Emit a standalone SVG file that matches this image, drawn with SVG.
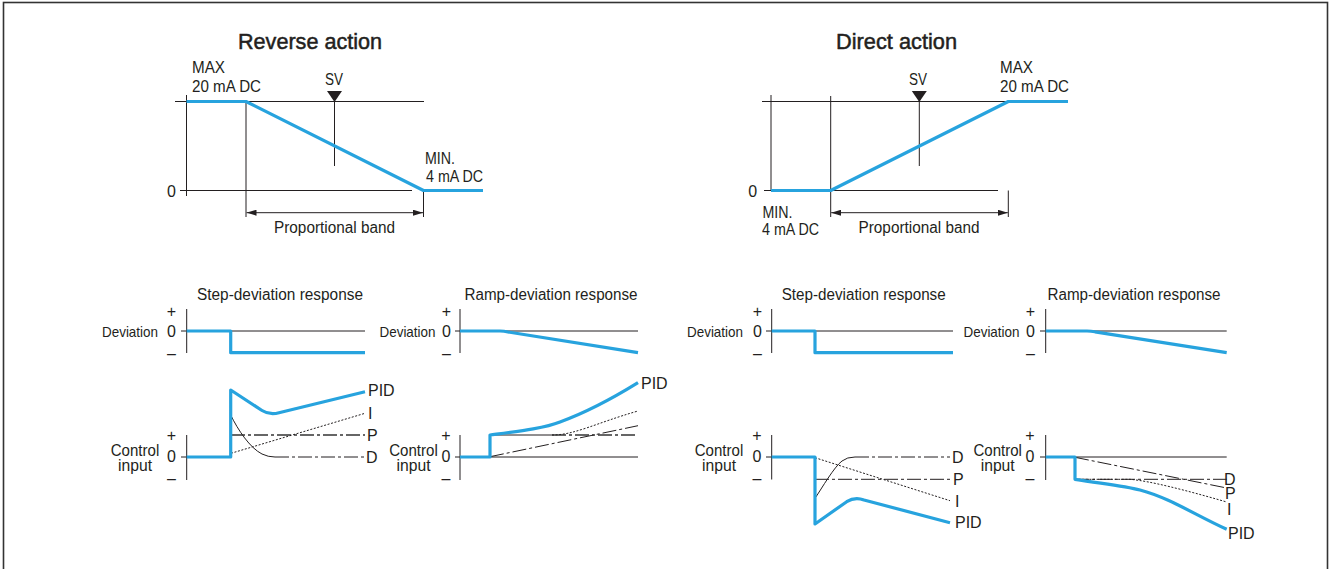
<svg xmlns="http://www.w3.org/2000/svg" width="1330" height="569" viewBox="0 0 1330 569">
  <defs>
    <style>
      text { font-family: "Liberation Sans", Arial, sans-serif; font-size: 16px; fill: #231f20; }
      .title { font-size: 22px; stroke: #231f20; stroke-width: 0.5; }
      .dev { font-size: 15px; }
      .mid { text-anchor: middle; }
      .end { text-anchor: end; }
      .ax { stroke: #231f20; stroke-width: 1; fill: none; }
      .sig { stroke: #27a3de; stroke-width: 3.2; fill: none; stroke-linejoin: round; }
      .dd { stroke: #231f20; stroke-width: 1; fill: none; stroke-dasharray: 14 3 3 3; }
      .dg { stroke: #666; stroke-width: 1.8; fill: none; stroke-dasharray: 14 3 3 3; }
      .dot { stroke: #231f20; stroke-width: 1; fill: none; stroke-dasharray: 2 1.6; }
      .thin { stroke: #231f20; stroke-width: 1; fill: none; }
    </style>
    <marker id="ah" viewBox="0 0 10 6" refX="10" refY="3" markerWidth="10" markerHeight="6" markerUnits="userSpaceOnUse" orient="auto-start-reverse">
      <path d="M0,0 L10,3 L0,6 Z" fill="#231f20"/>
    </marker>
  </defs>

  <rect x="3.5" y="2.5" width="1324" height="580" fill="#fff" stroke="#333" stroke-width="1.6"/>

  <!-- Reverse action characteristic -->
  <g id="reverse-action">
    <text class="title mid" x="310" y="49" textLength="144" lengthAdjust="spacingAndGlyphs">Reverse action</text>
    <text x="192" y="73.3" textLength="33" lengthAdjust="spacingAndGlyphs">MAX</text>
    <text x="192" y="91.7" textLength="69" lengthAdjust="spacingAndGlyphs">20 mA DC</text>
    <text class="mid" x="334" y="85" textLength="18" lengthAdjust="spacingAndGlyphs">SV</text>
    <text x="425" y="164" textLength="30" lengthAdjust="spacingAndGlyphs">MIN.</text>
    <text x="426" y="181.7" textLength="57" lengthAdjust="spacingAndGlyphs">4 mA DC</text>
    <text class="mid" x="171.5" y="196.5">0</text>
    <text class="mid" x="334.5" y="233.3" textLength="121" lengthAdjust="spacingAndGlyphs">Proportional band</text>
    <path class="ax" d="M175,101.5 H424 M180,190.5 H412 M186.5,95 V196 M246,101.5 V217 M423.5,190.5 V217 M334.5,96 V166"/>
    <path d="M327,91 H342 L334.5,102 Z" fill="#231f20"/>
    <line class="ax" x1="246.5" y1="212.7" x2="423" y2="212.7" marker-start="url(#ah)" marker-end="url(#ah)"/>
    <path class="sig" d="M186.5,101.5 H246 L423.5,190.5 H483"/>
  </g>

  <!-- Direct action characteristic -->
  <g id="direct-action">
    <text class="title mid" x="896.5" y="49" textLength="121" lengthAdjust="spacingAndGlyphs">Direct action</text>
    <text x="1000" y="73.3" textLength="33" lengthAdjust="spacingAndGlyphs">MAX</text>
    <text x="1000" y="91.7" textLength="69" lengthAdjust="spacingAndGlyphs">20 mA DC</text>
    <text class="mid" x="918" y="85" textLength="18" lengthAdjust="spacingAndGlyphs">SV</text>
    <text x="762.5" y="218.3" textLength="30" lengthAdjust="spacingAndGlyphs">MIN.</text>
    <text x="762" y="235" textLength="57" lengthAdjust="spacingAndGlyphs">4 mA DC</text>
    <text class="mid" x="752.7" y="196.5">0</text>
    <text class="mid" x="919" y="233.3" textLength="121" lengthAdjust="spacingAndGlyphs">Proportional band</text>
    <path class="ax" d="M762,101.5 H1008 M764,190.5 H998 M771,95 V191 M830.7,96 V217 M1008.3,190.5 V217 M919.3,96 V166"/>
    <path d="M911.8,91 H926.8 L919.3,102 Z" fill="#231f20"/>
    <line class="ax" x1="831.2" y1="212.7" x2="1007.8" y2="212.7" marker-start="url(#ah)" marker-end="url(#ah)"/>
    <path class="sig" d="M771,190.5 H830.7 L1008.3,101.5 H1068"/>
  </g>

  <!-- Reverse action: step-deviation response -->
  <g id="rev-step">
    <text class="mid" x="280" y="300" textLength="166" lengthAdjust="spacingAndGlyphs">Step-deviation response</text>
    <text class="end dev" x="158" y="337" textLength="56" lengthAdjust="spacingAndGlyphs">Deviation</text>
    <text class="mid" x="171.5" y="317">+</text>
    <text class="mid" x="171.5" y="337">0</text>
    <text class="mid" x="171.5" y="359">–</text>
    <text class="mid" x="135" y="455.7" textLength="48.5" lengthAdjust="spacingAndGlyphs">Control</text>
    <text class="mid" x="135" y="470.5" textLength="34" lengthAdjust="spacingAndGlyphs">input</text>
    <text class="mid" x="171.5" y="441">+</text>
    <text class="mid" x="171.5" y="462.3">0</text>
    <text class="mid" x="171.5" y="484">–</text>
    <path class="ax" d="M186.7,309 V353 M181,331 H365 M186.7,435 V480 M181,457 H231"/>
    <path class="sig" d="M186.7,331 H230.7 V352.7 H365"/>
    <path class="dg" d="M231,435 H365"/>
    <path class="dot" d="M231,453.3 L365,413.3"/>
    <path class="thin" d="M230.7,415 C238,430 250,448 262,454 Q268,457 275,457"/>
    <path class="dd" d="M275,457 H365"/>
    <path class="sig" d="M186.7,457 H230.7 V390 L262,410.5 Q270,415.5 279,412.7 L365,391.7"/>
    <text x="368" y="396">PID</text>
    <text x="368" y="419">I</text>
    <text x="367" y="441">P</text>
    <text x="366" y="463">D</text>
  </g>

  <!-- Reverse action: ramp-deviation response -->
  <g id="rev-ramp">
    <text class="mid" x="551" y="300" textLength="173" lengthAdjust="spacingAndGlyphs">Ramp-deviation response</text>
    <text class="end dev" x="435.5" y="337" textLength="56" lengthAdjust="spacingAndGlyphs">Deviation</text>
    <text class="mid" x="446.5" y="317">+</text>
    <text class="mid" x="446.5" y="337">0</text>
    <text class="mid" x="446.5" y="359">–</text>
    <text class="mid" x="413.5" y="455.7" textLength="48.5" lengthAdjust="spacingAndGlyphs">Control</text>
    <text class="mid" x="413.5" y="470.5" textLength="34" lengthAdjust="spacingAndGlyphs">input</text>
    <text class="mid" x="446" y="441">+</text>
    <text class="mid" x="446" y="462.3">0</text>
    <text class="mid" x="446" y="484">–</text>
    <path class="ax" d="M460,309 V353 M455,331 H638 M460,435 V480 M455,457 H638"/>
    <path class="sig" d="M460,331 H500 Q504,331 508,332 L638,352.7"/>
    <path class="thin" d="M490,435 H552"/>
    <path class="dg" d="M552,435 H638"/>
    <path class="dd" d="M490,456.7 L638,425.7"/>
    <path class="dot" d="M552,435 C575,435 596,423 638,411"/>
    <path class="sig" d="M460,457 H490 V435 C520,431 545,428 560,422 C585,413 610,400 638,382.7"/>
    <text x="641" y="389">PID</text>
  </g>

  <!-- Direct action: step-deviation response -->
  <g id="dir-step">
    <text class="mid" x="863.7" y="300" textLength="164" lengthAdjust="spacingAndGlyphs">Step-deviation response</text>
    <text class="end dev" x="743" y="337" textLength="56" lengthAdjust="spacingAndGlyphs">Deviation</text>
    <text class="mid" x="757.5" y="317">+</text>
    <text class="mid" x="757.5" y="337">0</text>
    <text class="mid" x="757.5" y="359">–</text>
    <text class="mid" x="719" y="455.7" textLength="48.5" lengthAdjust="spacingAndGlyphs">Control</text>
    <text class="mid" x="719" y="470.5" textLength="34" lengthAdjust="spacingAndGlyphs">input</text>
    <text class="mid" x="757" y="441">+</text>
    <text class="mid" x="757" y="462.3">0</text>
    <text class="mid" x="757" y="484">–</text>
    <path class="ax" d="M771.7,309 V353 M766,331 H953 M771.7,435 V479.5 M766,457 H815"/>
    <path class="sig" d="M771.7,331 H815 V352.7 H953"/>
    <path class="thin" d="M815,498.3 C822,488 834,467 842,461 Q847,457 855,457"/>
    <path class="dd" d="M855,457 H950"/>
    <path class="dd" d="M815,479.3 H950"/>
    <path class="dot" d="M815,457.7 L950,500.7"/>
    <path class="sig" d="M771.7,457 H815 V524 L846.7,501.7 Q855,496.5 864,500 L950,522.7"/>
    <text x="952" y="463">D</text>
    <text x="953" y="485">P</text>
    <text x="955" y="507">I</text>
    <text x="955" y="528">PID</text>
  </g>

  <!-- Direct action: ramp-deviation response -->
  <g id="dir-ramp">
    <text class="mid" x="1134" y="300" textLength="173" lengthAdjust="spacingAndGlyphs">Ramp-deviation response</text>
    <text class="end dev" x="1019.5" y="337" textLength="56" lengthAdjust="spacingAndGlyphs">Deviation</text>
    <text class="mid" x="1030.5" y="317">+</text>
    <text class="mid" x="1030.5" y="337">0</text>
    <text class="mid" x="1030.5" y="359">–</text>
    <text class="mid" x="997.7" y="455.7" textLength="48.5" lengthAdjust="spacingAndGlyphs">Control</text>
    <text class="mid" x="997.7" y="470.5" textLength="34" lengthAdjust="spacingAndGlyphs">input</text>
    <text class="mid" x="1030" y="441">+</text>
    <text class="mid" x="1030" y="462.3">0</text>
    <text class="mid" x="1030" y="484">–</text>
    <path class="ax" d="M1045.7,309 V353 M1040,331 H1226.7 M1045.7,435 V480 M1040,457 H1226.7"/>
    <path class="sig" d="M1045.7,331 H1087 Q1091,331 1095,331.8 L1226.7,352.7"/>
    <path class="dd" d="M1075,479.3 H1226.7"/>
    <path class="dd" d="M1075,457.3 L1226.7,488"/>
    <path class="dot" d="M1075,479.3 H1130 C1150,481 1185,490 1226.7,502"/>
    <path class="sig" d="M1045.7,457 H1075 V479.3 C1105,484 1125,486 1140,490 C1170,498 1195,515 1226.7,529.3"/>
    <text x="1224" y="484.5">D</text>
    <text x="1225" y="499">P</text>
    <text x="1227" y="515">I</text>
    <text x="1228" y="539">PID</text>
  </g>
</svg>
